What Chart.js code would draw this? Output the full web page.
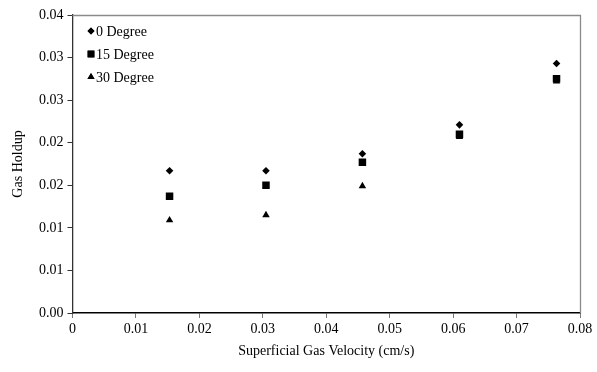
<!DOCTYPE html>
<html>
<head>
<meta charset="utf-8">
<script src="https://cdn.jsdelivr.net/npm/chart.js@4"></script>
<style>
html,body{margin:0;padding:0;background:#fff;}
#wrap{width:597px;height:372px;position:relative;}
</style>
</head>
<body>
<div id="wrap"><canvas id="c" width="597" height="372"></canvas></div>
<script>
const velocity = [0.0153, 0.0305, 0.0457, 0.0610, 0.0763];
const deg0  = [0.0167, 0.0167, 0.0187, 0.0221, 0.0293];
const deg15 = [0.0137, 0.0150, 0.0177, 0.0210, 0.0275];
const deg30 = [0.0109, 0.0115, 0.0149, 0.0207, 0.0272];
const seriesLabels = ['0 Degree', '15 Degree', '30 Degree'];
const yTickLabels = ['0.00','0.01','0.01','0.02','0.02','0.03','0.03','0.04'];
const xTickLabels = ['0','0.01','0.02','0.03','0.04','0.05','0.06','0.07','0.08'];

const FONT = 'Liberation Serif, "Times New Roman", serif';
const toPts = arr => arr.map((v, i) => ({x: velocity[i], y: v}));

const styles = [
  {pointStyle: 'rectRot', radius: 3.8},
  {pointStyle: 'rect', radius: 5.3},
  {pointStyle: 'triangle', radius: 4.3}
];

const frame = {
  id: 'frame',
  afterDraw(chart) {
    const {ctx, chartArea: a} = chart;
    ctx.save();
    ctx.strokeStyle = '#8a8a8a';
    ctx.lineWidth = 1.3;
    ctx.beginPath();
    ctx.moveTo(a.left, a.top + 0.5);
    ctx.lineTo(a.right + 0.5, a.top + 0.5);
    ctx.lineTo(a.right + 0.5, a.bottom);
    ctx.stroke();
    // legend
    ctx.font = '14px ' + FONT;
    ctx.textBaseline = 'middle';
    ctx.fillStyle = '#000';
    const rows = [31, 54, 77];
    chart.data.datasets.forEach((ds, i) => {
      const y = rows[i];
      const rad = ds.pointStyle === 'rect' ? 4.8 : (ds.pointStyle === 'triangle' ? 4.1 : 3.5);
      Chart.helpers.drawPoint(ctx, {pointStyle: ds.pointStyle, radius: rad, rotation: 0, borderWidth: 0}, 91, y);
      ctx.fill();
      ctx.fillText(ds.label, 96, y + 1);
    });
    ctx.restore();
  }
};

new Chart(document.getElementById('c'), {
  type: 'scatter',
  data: {
    datasets: [deg0, deg15, deg30].map((d, i) => ({
      label: seriesLabels[i],
      data: toPts(d),
      pointStyle: styles[i].pointStyle,
      pointRadius: styles[i].radius,
      pointHoverRadius: styles[i].radius,
      backgroundColor: '#000',
      borderColor: '#000',
      borderWidth: 0
    }))
  },
  options: {
    responsive: false,
    animation: false,
    devicePixelRatio: 1,
    layout: {padding: {left: 10, right: 17, top: 15, bottom: 12}},
    plugins: {legend: {display: false}, tooltip: {enabled: false}},
    scales: {
      x: {
        type: 'linear', min: 0, max: 0.08,
        ticks: {stepSize: 0.01, color: '#000', font: {family: FONT, size: 14}, padding: 3,
          callback: (v, i) => xTickLabels[i]},
        grid: {drawOnChartArea: false, tickLength: 5, color: '#777'},
        border: {color: '#000', width: 1.5},
        title: {display: true, text: 'Superficial Gas Velocity (cm/s)', color: '#000',
          font: {family: FONT, size: 14}, padding: {top: 2, bottom: 0}},
        afterFit: s => { s.height = 47; }
      },
      y: {
        type: 'linear', min: 0, max: 0.035,
        ticks: {stepSize: 0.005, color: '#000', font: {family: FONT, size: 14}, padding: 4,
          callback: (v, i) => yTickLabels[i]},
        grid: {drawOnChartArea: false, tickLength: 5, color: '#333'},
        border: {color: '#333', width: 1.3},
        title: {display: true, text: 'Gas Holdup', color: '#000',
          font: {family: FONT, size: 14}, padding: {top: 0, bottom: 0}},
        afterFit: s => { s.width = 62.5; }
      }
    }
  },
  plugins: [frame]
});
</script>
</body>
</html>
